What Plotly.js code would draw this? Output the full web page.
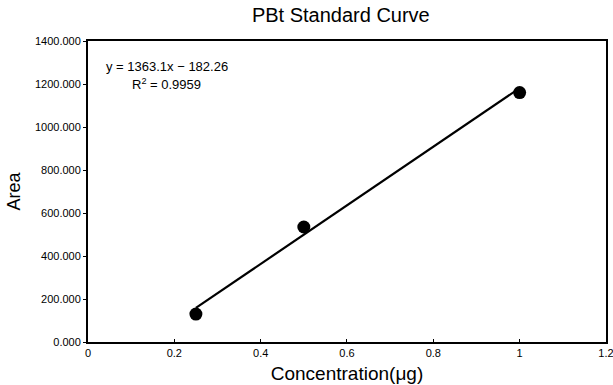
<!DOCTYPE html>
<html>
<head>
<meta charset="utf-8">
<script src="https://cdn.plot.ly/plotly-3.0.1.min.js"></script>
<style>html,body{margin:0;padding:0;background:#fff;}#chart{width:613px;height:385px;}</style>
</head>
<body>
<div id="chart"></div>
<script>
const concentration = [0.25, 0.5, 1.0];
const area = [130, 535, 1160];
const fitSlope = 1363.1;
const fitIntercept = -182.26;
const xTickVals = [0, 0.2, 0.4, 0.6, 0.8, 1, 1.2];
const xTickText = ["0", "0.2", "0.4", "0.6", "0.8", "1", "1.2"];
const yTickVals = [0, 200, 400, 600, 800, 1000, 1200, 1400];
const yTickText = ["0.000", "200.000", "400.000", "600.000", "800.000", "1000.000", "1200.000", "1400.000"];

const fitX = [Math.min(...concentration), Math.max(...concentration)];
const fitY = fitX.map(x => fitSlope * x + fitIntercept);

const font = "Liberation Sans, Arial, sans-serif";

Plotly.newPlot("chart", [
  {x: fitX, y: fitY, mode: "lines", line: {color: "#000", width: 2.2}, hoverinfo: "skip"},
  {x: concentration, y: area, mode: "markers", marker: {color: "#000", size: 13}}
], {
  width: 613, height: 385,
  margin: {l: 88, r: 7, t: 41, b: 43},
  showlegend: false,
  paper_bgcolor: "#fff", plot_bgcolor: "#fff",
  title: {text: "PBt Standard Curve", font: {family: font, size: 20, color: "#000"}, x: 0.556, xanchor: "center", y: 0.962, yanchor: "middle"},
  xaxis: {
    range: [0, 1.2001], tickvals: xTickVals, ticktext: xTickText,
    showgrid: false, zeroline: false, showline: true, linecolor: "#000", linewidth: 2, mirror: true,
    ticks: "inside", ticklen: 3, tickcolor: "#000", ticklabeloverflow: "allow",
    tickfont: {family: font, size: 11, color: "#000"},
    title: {text: "Concentration(μg)", font: {family: font, size: 19, color: "#000"}, standoff: 8}
  },
  yaxis: {
    range: [0, 1400], tickvals: yTickVals, ticktext: yTickText,
    showgrid: false, zeroline: false, showline: true, linecolor: "#000", linewidth: 2, mirror: true,
    ticks: "outside", ticklen: 3, tickcolor: "#000",
    tickfont: {family: font, size: 11, color: "#000"},
    title: {text: "Area", font: {family: font, size: 18, color: "#000"}, standoff: 10}
  },
  annotations: [
    {xref: "paper", yref: "paper", x: 0.031, y: 0.914, xanchor: "left", yanchor: "middle", showarrow: false,
     text: "y = 1363.1x − 182.26", font: {family: font, size: 13, color: "#000"}},
    {xref: "paper", yref: "paper", x: 0.081, y: 0.858, xanchor: "left", yanchor: "middle", showarrow: false,
     text: "R<sup>2</sup> = 0.9959", font: {family: font, size: 13, color: "#000"}}
  ]
}, {displayModeBar: false, staticPlot: true});
</script>
</body>
</html>
